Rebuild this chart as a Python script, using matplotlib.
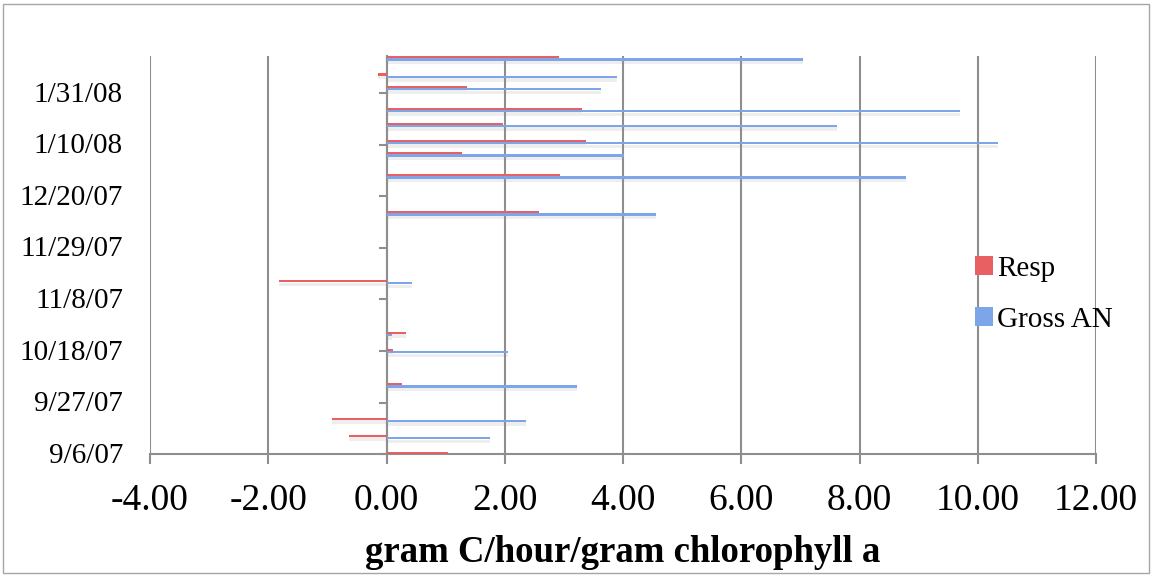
import matplotlib
matplotlib.use("Agg")
import matplotlib.pyplot as plt
import matplotlib.dates as mdates
import matplotlib.transforms as mtransforms
from matplotlib.patches import Rectangle
from matplotlib.ticker import FuncFormatter
import numpy as np
import datetime as dt

# ---- data ----
dates = ['2007-09-06', '2007-09-13', '2007-09-20', '2007-10-04', '2007-10-18',
         '2007-10-25', '2007-11-15', '2007-12-13', '2007-12-28', '2008-01-06',
         '2008-01-11', '2008-01-18', '2008-01-24', '2008-02-02', '2008-02-07',
         '2008-02-14']
resp = [1.04, -0.63, -0.92, 0.26, 0.11, 0.33, -1.81, 2.58, 2.94, 1.28,
        3.37, 1.97, 3.31, 1.36, -0.14, 2.92]
gross = [3.05, 1.75, 2.36, 3.23, 2.05, 0.09, 0.43, 4.56, 8.78, 4.02,
         10.35, 7.62, 9.70, 3.62, 3.90, 7.05]
series_names = ['Resp', 'Gross AN']
tick_dates = ['2007-09-06', '2007-09-27', '2007-10-18', '2007-11-08',
              '2007-11-29', '2007-12-20', '2008-01-10', '2008-01-31']
x_ticks = [-4, -2, 0, 2, 4, 6, 8, 10, 12]
x_label = 'gram C/hour/gram chlorophyll a'

plt.rcParams['font.family'] = ['Liberation Serif', 'DejaVu Serif']

RED = '#E86062'
BLUE = '#7DA6EA'
GRID = '#8e8e8e'
SHADOW = '#eeeeee'

W, H = 1153, 576
fig = plt.figure(figsize=(W / 100, H / 100), dpi=100)
ax = fig.add_axes([150 / W, (H - 454.3) / H, 946 / W, (454.3 - 56) / H])

yd = np.array([mdates.date2num(dt.datetime.strptime(d, '%Y-%m-%d')) for d in dates])
yt = np.array([mdates.date2num(dt.datetime.strptime(d, '%Y-%m-%d')) for d in tick_dates])

# soft shadows
ax.barh(yd + 0.45 - 1.3, resp, height=1.4, color=SHADOW, lw=0, zorder=0.3)
ax.barh(yd - 0.45 - 1.3, gross, height=1.4, color=SHADOW, lw=0, zorder=0.3)
# bars (blue first so red sits on top)
hb = ax.barh(yd - 0.45, gross, height=0.9, color=BLUE, lw=0, zorder=3)
hr = ax.barh(yd + 0.45, resp, height=0.9, color=RED, lw=0, zorder=4)

ax.set_xlim(-4, 12)
ax.set_ylim(yt[0], yt[0] + 162)
ax.set_xticks(x_ticks)
ax.xaxis.set_major_formatter(FuncFormatter(lambda v, p: f'{v:.2f}'))
ax.set_yticks(yt)
ax.set_axisbelow(True)
ax.grid(axis='x', color=GRID, lw=1.5)
ax.grid(axis='y', visible=False)

for s in ['top', 'right']:
    ax.spines[s].set_visible(False)
ax.spines['left'].set_position(('data', 0))
for s in ['left', 'bottom']:
    ax.spines[s].set_color(GRID)
    ax.spines[s].set_linewidth(1.5)

ax.tick_params(axis='x', length=7, width=1.5, color=GRID, labelsize=27, pad=14)
ax.tick_params(axis='y', length=6, width=1.5, color=GRID, labelleft=False)

trans = mtransforms.blended_transform_factory(ax.transAxes, ax.transData)
for t, d in zip(yt, tick_dates):
    dd = dt.datetime.strptime(d, '%Y-%m-%d')
    lab = f'{dd.month}/{dd.day}/{dd.strftime("%y")}'
    ax.text(-27 / 946, t - 0.7, lab, ha='right', va='center', fontsize=21,
            transform=trans)

ax.set_xlabel(x_label, fontsize=26.5, fontweight='bold', labelpad=12)

ax.legend([hr, hb], series_names, loc='upper left',
          bbox_to_anchor=(975 / W, 1 - 256 / H),
          bbox_transform=fig.transFigure, frameon=False, fontsize=21,
          handlelength=0.6, handleheight=0.6, handletextpad=0.15,
          labelspacing=0.85, borderpad=0, borderaxespad=0)

fig.patches.append(Rectangle((3 / W, 3 / H), (W - 7) / W, (H - 7) / H,
                             transform=fig.transFigure, fill=False,
                             ec='#a6a6a6', lw=1))

fig.savefig('out.png', dpi=100)
